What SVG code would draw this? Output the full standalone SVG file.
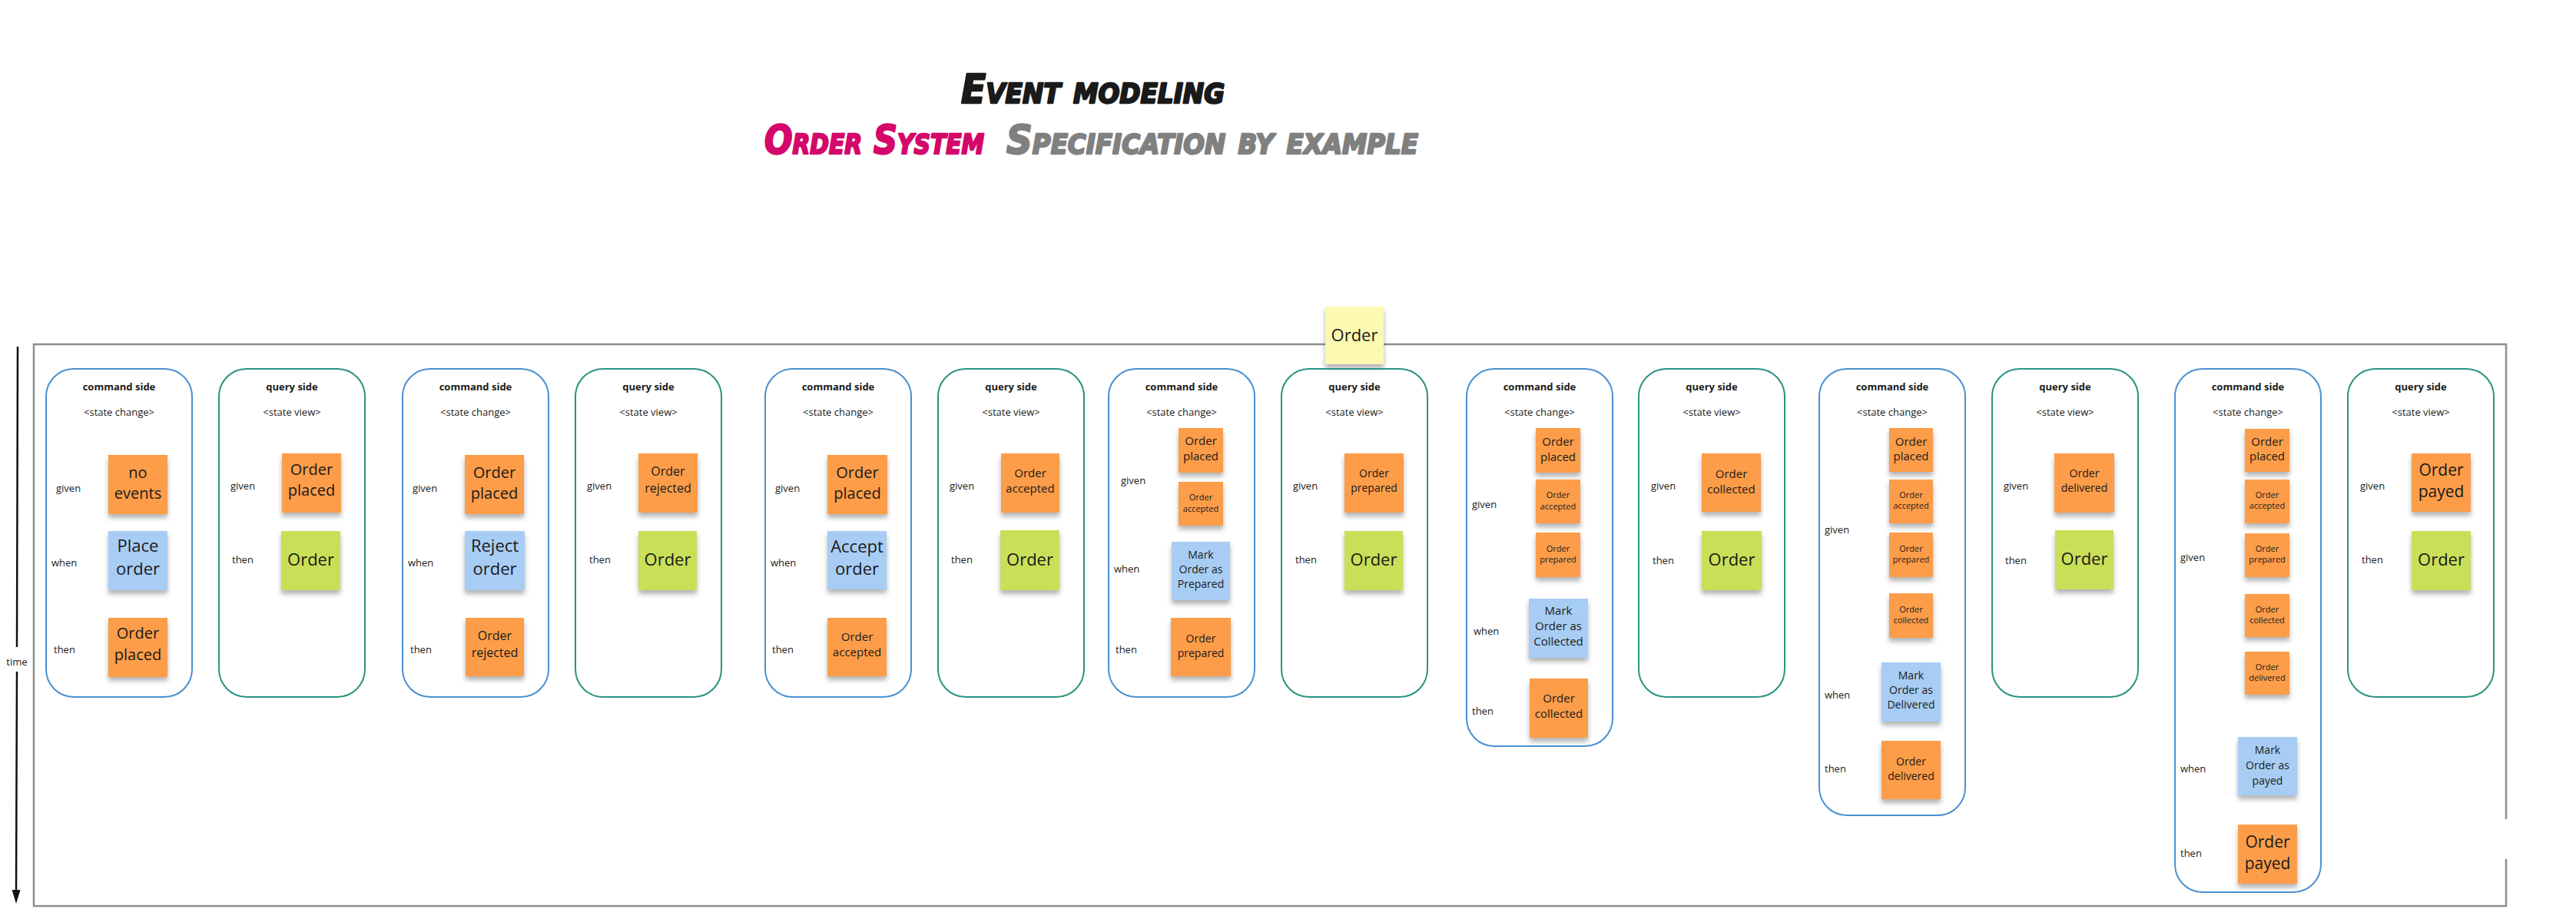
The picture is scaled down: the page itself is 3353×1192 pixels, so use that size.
<svg xmlns="http://www.w3.org/2000/svg" width="3353" height="1192" viewBox="0 0 3353 1192">
<style>
.bg{fill:#ffffff}
.frame{fill:none;stroke:#8e8e8e;stroke-width:2.5}
.bc{fill:none;stroke:#4a90d0;stroke-width:2}
.bq{fill:none;stroke:#2a9282;stroke-width:2}
.hd{font-family:"Open Sans","DejaVu Sans",sans-serif;font-weight:bold;font-size:13px;text-anchor:middle;fill:#1a1a1a}
.sub{font-family:"Open Sans","DejaVu Sans",sans-serif;font-size:13px;text-anchor:middle;fill:#1a1a1a}
.lbl{font-family:"Open Sans","DejaVu Sans",sans-serif;font-size:13px;fill:#1a1a1a}
.st{font-family:"Open Sans","DejaVu Sans",sans-serif;text-anchor:middle;fill:#1a1a1a}
.ev{fill:#fd9d4a;filter:url(#sh)}
.cm{fill:#a8cdf4;filter:url(#sh)}
.rm{fill:#c9df58;filter:url(#sh)}
.ag{fill:#fdf8b2;filter:url(#sh)}
.f11{font-size:11px}.f14{font-size:14px}.f15{font-size:15px}.f16{font-size:16px}.f20{font-size:20px}.f21{font-size:21px}.f22{font-size:22px}
.title{font-family:"DejaVu Sans",sans-serif;font-weight:bold;font-style:italic;font-variant:small-caps;font-size:52px;stroke-width:2.5;stroke-linejoin:round}
.arrow{fill:none;stroke:#111;stroke-width:2.5}
</style>
<defs>
<filter id="sh" x="-20%" y="-20%" width="140%" height="150%">
<feDropShadow dx="0" dy="5" stdDeviation="3" flood-color="#000" flood-opacity="0.3"/>
</filter>
</defs>
<rect class="bg" x="0" y="0" width="3353" height="1192"/>

<g id="title">
<text class="title" x="1251" y="134" textLength="343" lengthAdjust="spacingAndGlyphs" fill="#1a1a1a" stroke="#1a1a1a">Event modeling</text>
<text class="title" x="995" y="200" textLength="286" lengthAdjust="spacingAndGlyphs" fill="#d4086b" stroke="#d4086b">Order System</text>
<text class="title" x="1310" y="200" textLength="536" lengthAdjust="spacingAndGlyphs" fill="#808080" stroke="#808080">Specification by example</text>
</g>

<g id="frame">
<path class="frame" d="M3262 1118 V1179 H44 V448 H3262 V1066"/>
</g>

<g id="connectors">
<line class="arrow" x1="23" y1="451" x2="22" y2="842"/>
<line class="arrow" x1="22" y1="874" x2="21" y2="1158"/>
<path d="M15.5 1158 L26.5 1158 L21 1176 Z" fill="#111"/>
<text class="lbl" x="22" y="866" text-anchor="middle">time</text>
</g>

<g id="aggregate-order">
<rect class="ag" x="1725" y="399" width="76" height="75"/>
<text class="st f22" x="1763" y="444">Order</text>
</g>

<!-- Box 1 -->
<g id="spec1-command">
<rect class="bc" x="60" y="480" width="190" height="427" rx="36"/>
<text class="hd" x="155" y="508">command side</text>
<text class="sub" x="155" y="541">&lt;state change&gt;</text>
<text class="lbl" x="73" y="640">given</text>
<text class="lbl" x="67" y="737">when</text>
<text class="lbl" x="70" y="850">then</text>
<g id="s1-given"><rect class="ev" x="141" y="592" width="77" height="77"/><text class="st f20"><tspan x="179.5" y="622">no</tspan><tspan x="179.5" y="649">events</tspan></text></g>
<g id="s1-when"><rect class="cm" x="141" y="691" width="77" height="77"/><text class="st f22"><tspan x="179.5" y="718">Place</tspan><tspan x="179.5" y="748">order</tspan></text></g>
<g id="s1-then"><rect class="ev" x="141" y="804" width="77" height="77"/><text class="st f20"><tspan x="179.5" y="831">Order</tspan><tspan x="179.5" y="859">placed</tspan></text></g>
</g>

<g id="spec1-query">
<rect class="bq" x="285" y="480" width="190" height="427" rx="36"/>
<text class="hd" x="380" y="508">query side</text>
<text class="sub" x="380" y="541">&lt;state view&gt;</text>
<text class="lbl" x="300" y="637">given</text>
<text class="lbl" x="302" y="733">then</text>
<g id="q1-given"><rect class="ev" x="367" y="590" width="77" height="77"/><text class="st f20"><tspan x="405.5" y="618">Order</tspan><tspan x="405.5" y="645">placed</tspan></text></g>
<g id="q1-then"><rect class="rm" x="366" y="691" width="77" height="77"/><text class="st f22" x="404.5" y="736">Order</text></g>
</g>

<!-- Box 2 -->
<g id="spec2-command">
<rect class="bc" x="524" y="480" width="190" height="427" rx="36"/>
<text class="hd" x="619" y="508">command side</text>
<text class="sub" x="619" y="541">&lt;state change&gt;</text>
<text class="lbl" x="537" y="640">given</text>
<text class="lbl" x="531" y="737">when</text>
<text class="lbl" x="534" y="850">then</text>
<g id="s2-given"><rect class="ev" x="605" y="592" width="77" height="77"/><text class="st f20"><tspan x="643.5" y="622">Order</tspan><tspan x="643.5" y="649">placed</tspan></text></g>
<g id="s2-when"><rect class="cm" x="605" y="691" width="78" height="77"/><text class="st f22"><tspan x="644" y="718">Reject</tspan><tspan x="644" y="748">order</tspan></text></g>
<g id="s2-then"><rect class="ev" x="606" y="804" width="76" height="76"/><text class="st f16"><tspan x="644" y="833">Order</tspan><tspan x="644" y="855">rejected</tspan></text></g>
</g>

<g id="spec2-query">
<rect class="bq" x="749" y="480" width="190" height="427" rx="36"/>
<text class="hd" x="844" y="508">query side</text>
<text class="sub" x="844" y="541">&lt;state view&gt;</text>
<text class="lbl" x="764" y="637">given</text>
<text class="lbl" x="767" y="733">then</text>
<g id="q2-given"><rect class="ev" x="831" y="590" width="77" height="77"/><text class="st f16"><tspan x="869.5" y="619">Order</tspan><tspan x="869.5" y="641">rejected</tspan></text></g>
<g id="q2-then"><rect class="rm" x="831" y="691" width="76" height="77"/><text class="st f22" x="869" y="736">Order</text></g>
</g>

<!-- Box 3 -->
<g id="spec3-command">
<rect class="bc" x="996" y="480" width="190" height="427" rx="36"/>
<text class="hd" x="1091" y="508">command side</text>
<text class="sub" x="1091" y="541">&lt;state change&gt;</text>
<text class="lbl" x="1009" y="640">given</text>
<text class="lbl" x="1003" y="737">when</text>
<text class="lbl" x="1005" y="850">then</text>
<g id="s3-given"><rect class="ev" x="1077" y="592" width="78" height="77"/><text class="st f20"><tspan x="1116" y="622">Order</tspan><tspan x="1116" y="649">placed</tspan></text></g>
<g id="s3-when"><rect class="cm" x="1077" y="691" width="77" height="76"/><text class="st f22"><tspan x="1115.5" y="719">Accept</tspan><tspan x="1115.5" y="748">order</tspan></text></g>
<g id="s3-then"><rect class="ev" x="1077" y="804" width="77" height="76"/><text class="st f15"><tspan x="1115.5" y="834">Order</tspan><tspan x="1115.5" y="854">accepted</tspan></text></g>
</g>

<g id="spec3-query">
<rect class="bq" x="1221" y="480" width="190" height="427" rx="36"/>
<text class="hd" x="1316" y="508">query side</text>
<text class="sub" x="1316" y="541">&lt;state view&gt;</text>
<text class="lbl" x="1236" y="637">given</text>
<text class="lbl" x="1238" y="733">then</text>
<g id="q3-given"><rect class="ev" x="1303" y="590" width="76" height="77"/><text class="st f15"><tspan x="1341" y="621">Order</tspan><tspan x="1341" y="641">accepted</tspan></text></g>
<g id="q3-then"><rect class="rm" x="1302" y="690" width="77" height="78"/><text class="st f22" x="1340.5" y="736">Order</text></g>
</g>

<!-- Box 4 -->
<g id="spec4-command">
<rect class="bc" x="1443" y="480" width="190" height="427" rx="36"/>
<text class="hd" x="1538" y="508">command side</text>
<text class="sub" x="1538" y="541">&lt;state change&gt;</text>
<text class="lbl" x="1459" y="630">given</text>
<text class="lbl" x="1450" y="745">when</text>
<text class="lbl" x="1452" y="850">then</text>
<g id="s4-given1"><rect class="ev" x="1534" y="557" width="58" height="58"/><text class="st f15"><tspan x="1563" y="579">Order</tspan><tspan x="1563" y="599">placed</tspan></text></g>
<g id="s4-given2"><rect class="ev" x="1534" y="627" width="58" height="57"/><text class="st f11"><tspan x="1563" y="651">Order</tspan><tspan x="1563" y="666">accepted</tspan></text></g>
<g id="s4-when"><rect class="cm" x="1525" y="705" width="76" height="76"/><text class="st f14"><tspan x="1563" y="727">Mark</tspan><tspan x="1563" y="746">Order as</tspan><tspan x="1563" y="765">Prepared</tspan></text></g>
<g id="s4-then"><rect class="ev" x="1524" y="804" width="78" height="76"/><text class="st f14"><tspan x="1563" y="836">Order</tspan><tspan x="1563" y="855">prepared</tspan></text></g>
</g>

<g id="spec4-query">
<rect class="bq" x="1668" y="480" width="190" height="427" rx="36"/>
<text class="hd" x="1763" y="508">query side</text>
<text class="sub" x="1763" y="541">&lt;state view&gt;</text>
<text class="lbl" x="1683" y="637">given</text>
<text class="lbl" x="1686" y="733">then</text>
<g id="q4-given"><rect class="ev" x="1750" y="590" width="77" height="77"/><text class="st f14"><tspan x="1788.5" y="621">Order</tspan><tspan x="1788.5" y="640">prepared</tspan></text></g>
<g id="q4-then"><rect class="rm" x="1750" y="691" width="76" height="77"/><text class="st f22" x="1788" y="736">Order</text></g>
</g>

<!-- Box 5 -->
<g id="spec5-command">
<rect class="bc" x="1909" y="480" width="190" height="491" rx="36"/>
<text class="hd" x="2004" y="508">command side</text>
<text class="sub" x="2004" y="541">&lt;state change&gt;</text>
<text class="lbl" x="1916" y="661">given</text>
<text class="lbl" x="1918" y="826">when</text>
<text class="lbl" x="1916" y="930">then</text>
<g id="s5-given1"><rect class="ev" x="1999" y="557" width="58" height="58"/><text class="st f15"><tspan x="2028" y="580">Order</tspan><tspan x="2028" y="600">placed</tspan></text></g>
<g id="s5-given2"><rect class="ev" x="1999" y="624" width="58" height="57"/><text class="st f11"><tspan x="2028" y="648">Order</tspan><tspan x="2028" y="663">accepted</tspan></text></g>
<g id="s5-given3"><rect class="ev" x="1999" y="693" width="58" height="58"/><text class="st f11"><tspan x="2028" y="718">Order</tspan><tspan x="2028" y="732">prepared</tspan></text></g>
<g id="s5-when"><rect class="cm" x="1990" y="779" width="77" height="77"/><text class="st f15"><tspan x="2028.5" y="800">Mark</tspan><tspan x="2028.5" y="820">Order as</tspan><tspan x="2028.5" y="840">Collected</tspan></text></g>
<g id="s5-then"><rect class="ev" x="1991" y="883" width="76" height="77"/><text class="st f15"><tspan x="2029" y="914">Order</tspan><tspan x="2029" y="934">collected</tspan></text></g>
</g>

<g id="spec5-query">
<rect class="bq" x="2133" y="480" width="190" height="427" rx="36"/>
<text class="hd" x="2228" y="508">query side</text>
<text class="sub" x="2228" y="541">&lt;state view&gt;</text>
<text class="lbl" x="2149" y="637">given</text>
<text class="lbl" x="2151" y="734">then</text>
<g id="q5-given"><rect class="ev" x="2215" y="590" width="77" height="76"/><text class="st f15"><tspan x="2253.5" y="622">Order</tspan><tspan x="2253.5" y="642">collected</tspan></text></g>
<g id="q5-then"><rect class="rm" x="2215" y="691" width="78" height="77"/><text class="st f22" x="2254" y="736">Order</text></g>
</g>

<!-- Box 6 -->
<g id="spec6-command">
<rect class="bc" x="2368" y="480" width="190" height="581" rx="36"/>
<text class="hd" x="2463" y="508">command side</text>
<text class="sub" x="2463" y="541">&lt;state change&gt;</text>
<text class="lbl" x="2375" y="694">given</text>
<text class="lbl" x="2375" y="909">when</text>
<text class="lbl" x="2375" y="1005">then</text>
<g id="s6-given1"><rect class="ev" x="2459" y="557" width="57" height="57"/><text class="st f15"><tspan x="2487.5" y="580">Order</tspan><tspan x="2487.5" y="599">placed</tspan></text></g>
<g id="s6-given2"><rect class="ev" x="2459" y="624" width="57" height="57"/><text class="st f11"><tspan x="2487.5" y="648">Order</tspan><tspan x="2487.5" y="662">accepted</tspan></text></g>
<g id="s6-given3"><rect class="ev" x="2459" y="693" width="57" height="58"/><text class="st f11"><tspan x="2487.5" y="718">Order</tspan><tspan x="2487.5" y="732">prepared</tspan></text></g>
<g id="s6-given4"><rect class="ev" x="2459" y="772" width="57" height="58"/><text class="st f11"><tspan x="2487.5" y="797">Order</tspan><tspan x="2487.5" y="811">collected</tspan></text></g>
<g id="s6-when"><rect class="cm" x="2449" y="862" width="77" height="77"/><text class="st f14"><tspan x="2487.5" y="884">Mark</tspan><tspan x="2487.5" y="903">Order as</tspan><tspan x="2487.5" y="922">Delivered</tspan></text></g>
<g id="s6-then"><rect class="ev" x="2449" y="964" width="77" height="76"/><text class="st f14"><tspan x="2487.5" y="996">Order</tspan><tspan x="2487.5" y="1015">delivered</tspan></text></g>
</g>

<g id="spec6-query">
<rect class="bq" x="2593" y="480" width="190" height="427" rx="36"/>
<text class="hd" x="2688" y="508">query side</text>
<text class="sub" x="2688" y="541">&lt;state view&gt;</text>
<text class="lbl" x="2608" y="637">given</text>
<text class="lbl" x="2610" y="734">then</text>
<g id="q6-given"><rect class="ev" x="2674" y="590" width="78" height="77"/><text class="st f14"><tspan x="2713" y="621">Order</tspan><tspan x="2713" y="640">delivered</tspan></text></g>
<g id="q6-then"><rect class="rm" x="2675" y="690" width="76" height="77"/><text class="st f22" x="2713" y="735">Order</text></g>
</g>

<!-- Box 7 -->
<g id="spec7-command">
<rect class="bc" x="2831" y="480" width="190" height="681" rx="36"/>
<text class="hd" x="2926" y="508">command side</text>
<text class="sub" x="2926" y="541">&lt;state change&gt;</text>
<text class="lbl" x="2838" y="730">given</text>
<text class="lbl" x="2838" y="1005">when</text>
<text class="lbl" x="2838" y="1115">then</text>
<g id="s7-given1"><rect class="ev" x="2922" y="558" width="58" height="56"/><text class="st f15"><tspan x="2951" y="580">Order</tspan><tspan x="2951" y="599">placed</tspan></text></g>
<g id="s7-given2"><rect class="ev" x="2922" y="624" width="58" height="57"/><text class="st f11"><tspan x="2951" y="648">Order</tspan><tspan x="2951" y="662">accepted</tspan></text></g>
<g id="s7-given3"><rect class="ev" x="2922" y="694" width="58" height="57"/><text class="st f11"><tspan x="2951" y="718">Order</tspan><tspan x="2951" y="732">prepared</tspan></text></g>
<g id="s7-given4"><rect class="ev" x="2922" y="773" width="58" height="56"/><text class="st f11"><tspan x="2951" y="797">Order</tspan><tspan x="2951" y="811">collected</tspan></text></g>
<g id="s7-given5"><rect class="ev" x="2922" y="848" width="58" height="56"/><text class="st f11"><tspan x="2951" y="872">Order</tspan><tspan x="2951" y="886">delivered</tspan></text></g>
<g id="s7-when"><rect class="cm" x="2913" y="959" width="77" height="76"/><text class="st f14"><tspan x="2951.5" y="981">Mark</tspan><tspan x="2951.5" y="1001">Order as</tspan><tspan x="2951.5" y="1021">payed</tspan></text></g>
<g id="s7-then"><rect class="ev" x="2913" y="1073" width="77" height="77"/><text class="st f21"><tspan x="2951.5" y="1103">Order</tspan><tspan x="2951.5" y="1131">payed</tspan></text></g>
</g>

<g id="spec7-query">
<rect class="bq" x="3056" y="480" width="190" height="427" rx="36"/>
<text class="hd" x="3151" y="508">query side</text>
<text class="sub" x="3151" y="541">&lt;state view&gt;</text>
<text class="lbl" x="3072" y="637">given</text>
<text class="lbl" x="3074" y="733">then</text>
<g id="q7-given"><rect class="ev" x="3139" y="590" width="77" height="76"/><text class="st f21"><tspan x="3177.5" y="619">Order</tspan><tspan x="3177.5" y="647">payed</tspan></text></g>
<g id="q7-then"><rect class="rm" x="3139" y="691" width="77" height="77"/><text class="st f22" x="3177.5" y="736">Order</text></g>
</g>
</svg>
